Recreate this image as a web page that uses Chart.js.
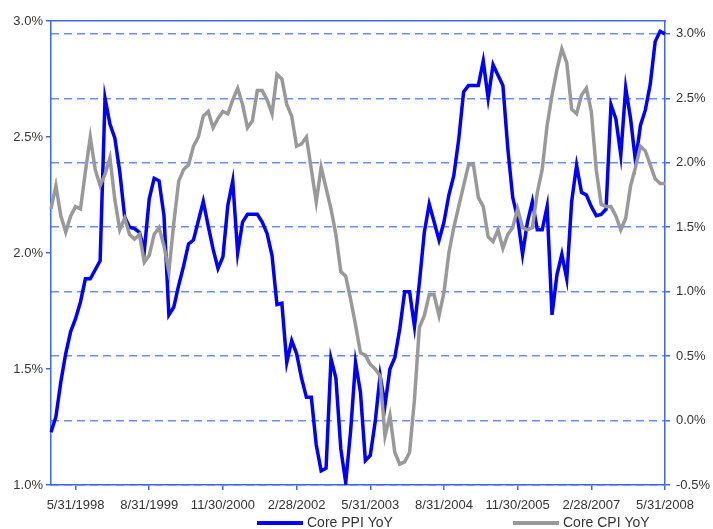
<!DOCTYPE html>
<html>
<head>
<meta charset="utf-8">
<script src="https://cdn.jsdelivr.net/npm/chart.js@4.4.1/dist/chart.umd.min.js"></script>
<style>
  html, body { margin: 0; padding: 0; background: #fff; }
  #wrap { width: 713px; height: 529px; }
</style>
</head>
<body>
<div id="wrap"><canvas id="chart"></canvas></div>
<script>
// month-end dates, 12/31/1997 .. 5/31/2008
const months = [];
for (let k = 0; k < 126; k++) {
  const d = new Date(1998, k, 0);
  months.push((d.getMonth() + 1) + '/' + d.getDate() + '/' + d.getFullYear());
}

// labelled ticks on the date axis (every 15 months)
const xTickLabels = ['5/31/1998', '8/31/1999', '11/30/2000', '2/28/2002', '5/31/2003',
                     '8/31/2004', '11/30/2005', '2/28/2007', '5/31/2008'];
// right axis ticks / gridlines
const ppiTicks = [-0.5, 0.0, 0.5, 1.0, 1.5, 2.0, 2.5, 3.0];

// Core PPI YoY (right axis, %)
const corePPI = [
  -0.09, 0.03, 0.30, 0.52, 0.69, 0.79, 0.92, 1.10, 1.10, 1.17,
  1.24, 2.50, 2.30, 2.19, 1.93, 1.58, 1.50, 1.49, 1.46, 1.32,
  1.72, 1.88, 1.86, 1.59, 0.82, 0.88, 1.05, 1.20, 1.37, 1.40,
  1.55, 1.70, 1.51, 1.33, 1.18, 1.27, 1.67, 1.86, 1.30, 1.54,
  1.60, 1.60, 1.60, 1.54, 1.45, 1.28, 0.90, 0.91, 0.45, 0.62,
  0.52, 0.33, 0.18, 0.18, -0.19, -0.39, -0.37, 0.48, 0.33, -0.22,
  -0.48, -0.08, 0.45, 0.22, -0.31, -0.27, -0.01, 0.35, 0.12, 0.40,
  0.49, 0.71, 1.00, 1.00, 0.73, 1.07, 1.46, 1.68, 1.54, 1.40,
  1.54, 1.75, 1.90, 2.18, 2.55, 2.60, 2.60, 2.60, 2.79, 2.50,
  2.76, 2.68, 2.60, 2.11, 1.73, 1.57, 1.29, 1.54, 1.70, 1.48,
  1.48, 1.66, 0.82, 1.13, 1.29, 1.10, 1.70, 1.98, 1.77, 1.75,
  1.66, 1.59, 1.60, 1.64, 2.45, 2.34, 2.06, 2.58, 2.34, 2.01,
  2.29, 2.41, 2.61, 2.94, 3.02, 3.00
];

// Core CPI YoY (left axis, %)
const coreCPI = [
  2.19, 2.29, 2.16, 2.09, 2.16, 2.20, 2.19, 2.35, 2.50, 2.36,
  2.29, 2.34, 2.41, 2.23, 2.10, 2.15, 2.08, 2.06, 2.08, 1.96,
  1.99, 2.08, 2.11, 2.03, 1.92, 2.13, 2.31, 2.36, 2.38, 2.46,
  2.50, 2.59, 2.61, 2.54, 2.58, 2.61, 2.60, 2.66, 2.71, 2.64,
  2.54, 2.57, 2.70, 2.70, 2.66, 2.60, 2.77, 2.75, 2.64, 2.59,
  2.46, 2.47, 2.50, 2.36, 2.22, 2.37, 2.28, 2.19, 2.08, 1.92,
  1.90, 1.80, 1.69, 1.57, 1.56, 1.52, 1.50, 1.47, 1.21, 1.30,
  1.14, 1.09, 1.10, 1.14, 1.37, 1.68, 1.73, 1.82, 1.82, 1.73,
  1.83, 2.00, 2.11, 2.20, 2.29, 2.38, 2.38, 2.24, 2.20, 2.07,
  2.05, 2.10, 2.02, 2.08, 2.11, 2.19, 2.11, 2.10, 2.11, 2.26,
  2.36, 2.55, 2.68, 2.79, 2.88, 2.82, 2.62, 2.60, 2.68, 2.71,
  2.61, 2.36, 2.21, 2.20, 2.20, 2.16, 2.10, 2.15, 2.29, 2.37,
  2.46, 2.44, 2.38, 2.32, 2.30, 2.30
];

const axisBlue = '#3d68ec';
const gridBlue = '#6a8ef8';
const textCol = '#333333';

Chart.defaults.font.family = '"Liberation Sans", Arial, sans-serif';
Chart.defaults.font.size = 13;
Chart.defaults.color = textCol;
Chart.defaults.borderColor = axisBlue;

// legend drawn under the axis, items spread apart like the original
const bottomLegend = {
  id: 'bottomLegend',
  afterDraw(chart, args, opts) {
    const ctx = chart.ctx;
    ctx.save();
    ctx.font = '14px "Liberation Sans", Arial, sans-serif';
    ctx.textBaseline = 'middle';
    chart.data.datasets.forEach((ds, k) => {
      const x = opts.starts[k];
      ctx.strokeStyle = ds.borderColor;
      ctx.lineWidth = 4;
      ctx.beginPath();
      ctx.moveTo(x, opts.y);
      ctx.lineTo(x + opts.sample, opts.y);
      ctx.stroke();
      ctx.fillStyle = textCol;
      ctx.fillText(ds.label, x + opts.sample + 4, opts.y);
    });
    ctx.restore();
  }
};

const pctTicks = v => v.toFixed(1) + '%';

new Chart(document.getElementById('chart'), {
  type: 'line',
  data: {
    labels: months,
    datasets: [
      {
        label: 'Core PPI YoY',
        data: corePPI,
        yAxisID: 'y1',
        borderColor: '#0000ff',
        borderWidth: 3.5,
        pointRadius: 0,
        tension: 0,
        order: 1
      },
      {
        label: 'Core CPI YoY',
        data: coreCPI,
        yAxisID: 'y',
        borderColor: '#999999',
        borderWidth: 3.5,
        pointRadius: 0,
        tension: 0,
        order: 0
      }
    ]
  },
  options: {
    responsive: true,
    maintainAspectRatio: false,
    animation: false,
    layout: { padding: 0 },
    plugins: {
      legend: { display: false },
      tooltip: { enabled: false },
      bottomLegend: { starts: [257, 513], sample: 46, y: 523 }
    },
    scales: {
      x: {
        type: 'category',
        position: 'bottom',
        offset: false,
        grid: { display: true, drawOnChartArea: false, tickLength: 5, lineWidth: 1.5, color: axisBlue, tickColor: axisBlue },
        border: { display: true, color: axisBlue, width: 1.5 },
        ticks: { autoSkip: false, maxRotation: 0, padding: 8 },
        afterBuildTicks: s => { s.ticks = s.ticks.filter(t => xTickLabels.includes(months[t.value])); },
        afterFit: s => { s.height = 44; }
      },
      xTop: {
        type: 'category',
        position: 'top',
        offset: false,
        grid: { display: false },
        ticks: { display: false },
        border: { display: true, color: axisBlue, width: 1.5 },
        afterFit: s => { s.height = 21; }
      },
      y: {
        position: 'left',
        min: 1.0,
        max: 3.0,
        ticks: { stepSize: 0.5, callback: pctTicks, padding: 3 },
        grid: { drawOnChartArea: false, tickLength: 5, lineWidth: 1.5, color: axisBlue, tickColor: axisBlue },
        border: { display: true, color: axisBlue, width: 1.5 },
        afterFit: s => { s.width = 51; }
      },
      y1: {
        position: 'right',
        min: -0.5,
        max: 3.1,
        ticks: { callback: pctTicks, padding: 6 },
        grid: { drawOnChartArea: true, tickLength: 5, lineWidth: 1.5, color: gridBlue, tickColor: axisBlue },
        border: { display: true, color: axisBlue, width: 1.5, dash: [8, 5] },
        afterBuildTicks: s => { s.ticks = ppiTicks.map(v => ({ value: v })); },
        afterFit: s => { s.width = 48; }
      }
    }
  },
  plugins: [bottomLegend]
});
</script>
</body>
</html>
